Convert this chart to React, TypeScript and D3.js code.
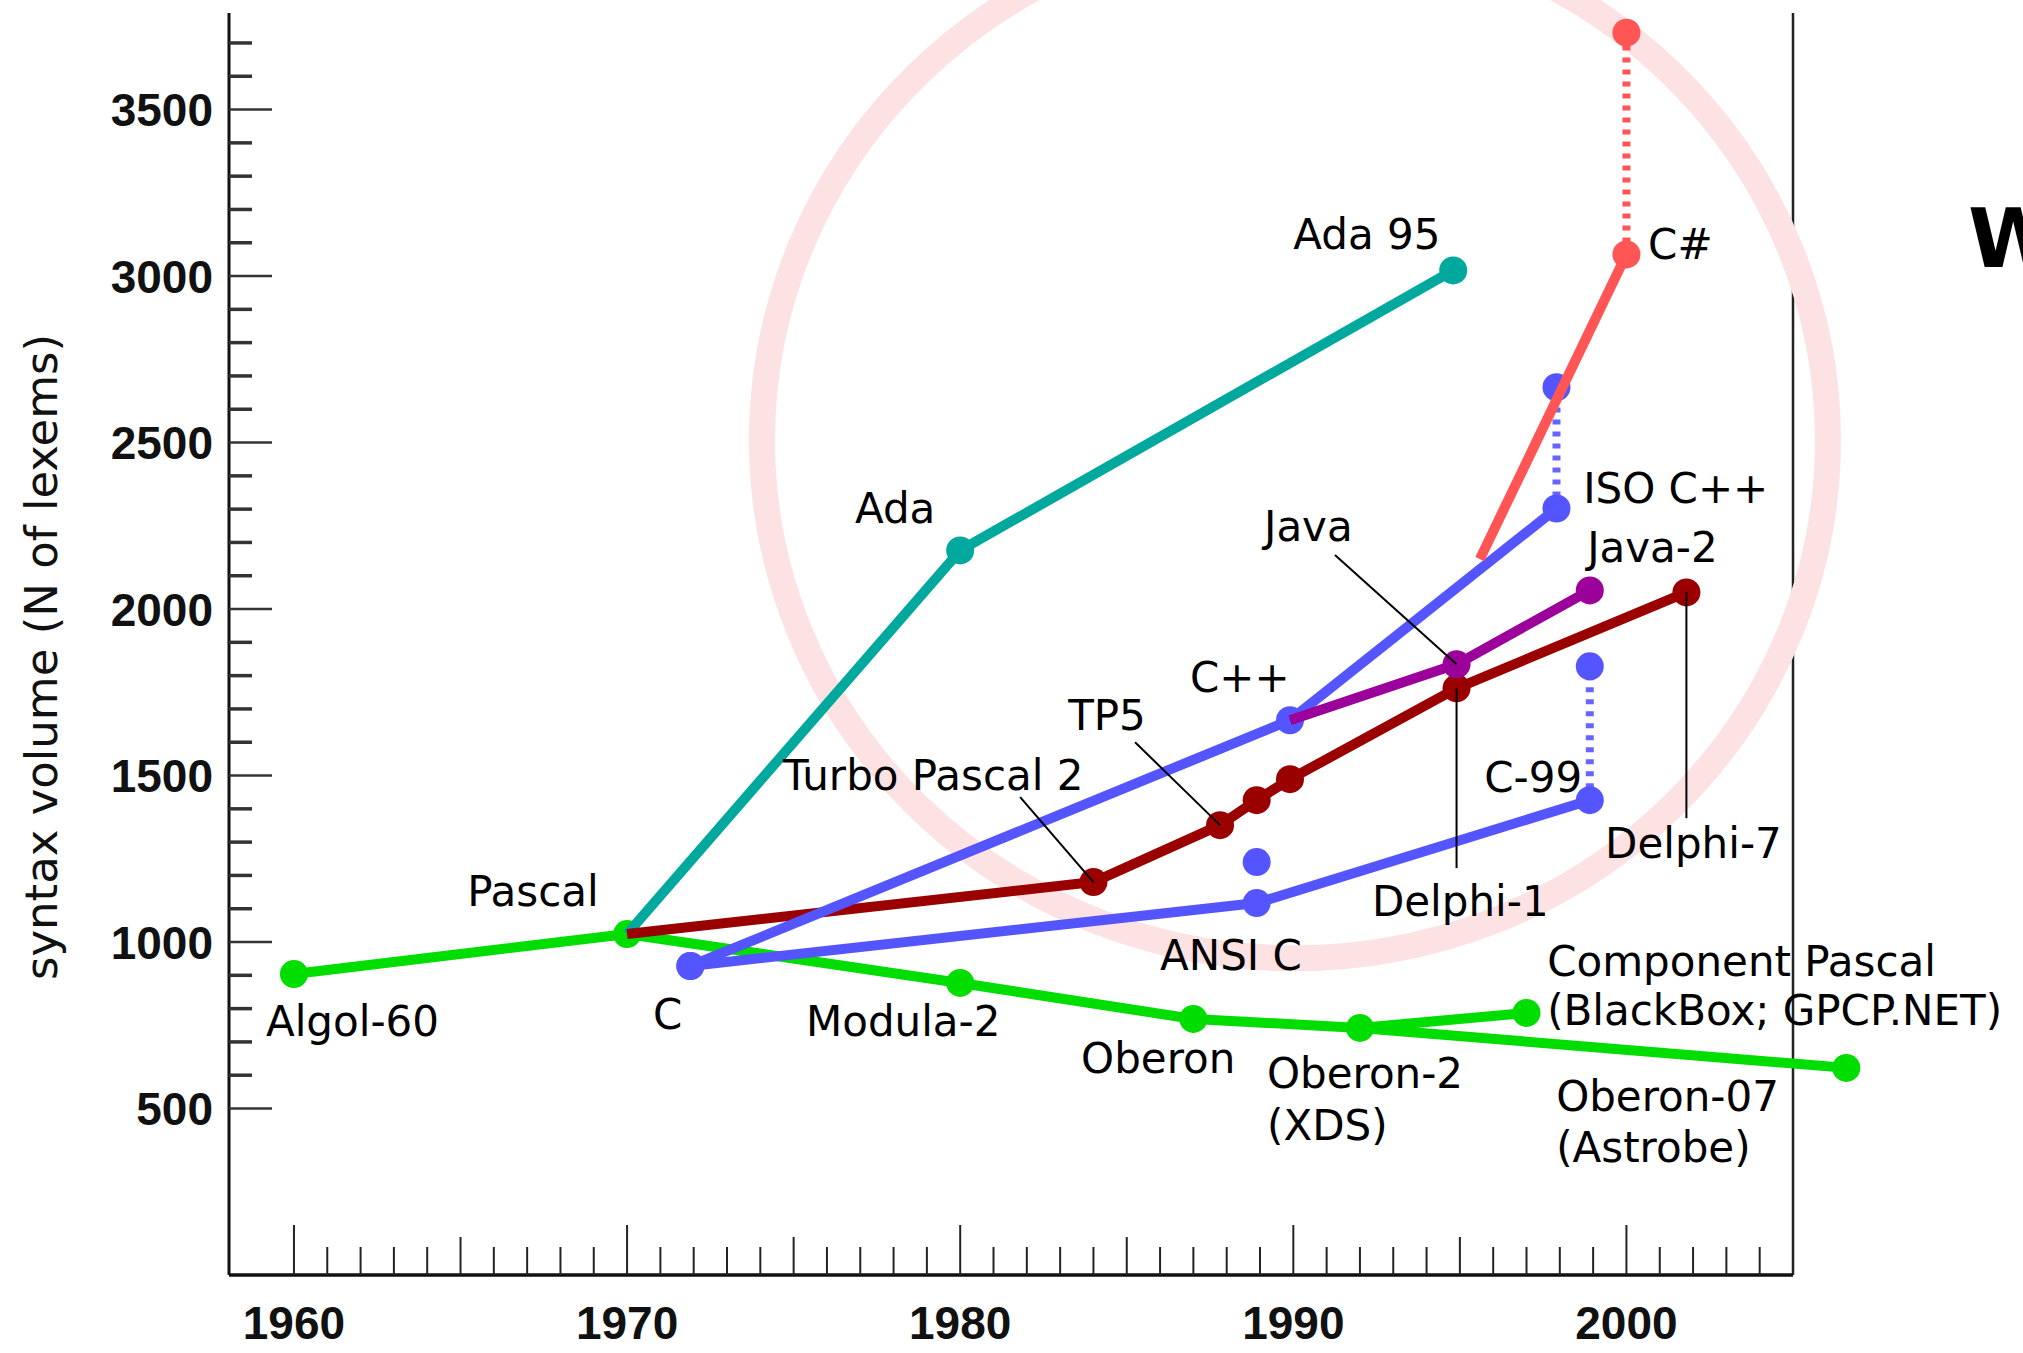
import React from "react";
import * as d3 from "d3";

// ---------- data (year, syntax volume in lexems) ----------
const wirthLine: [number, number][] = [
  [1960, 904], [1970, 1024], [1980, 877], [1987, 769], [1992, 742], [1997, 787],
];
const oberon07Line: [number, number][] = [[1992, 742], [2006.6, 622]];
const adaLine: [number, number][] = [[1970, 1024], [1980, 2176], [1994.8, 3017]];
const borlandLine: [number, number][] = [
  [1970, 1024], [1984, 1180], [1987.8, 1351], [1988.9, 1426], [1989.9, 1489], [1994.9, 1762], [2001.8, 2050],
];
const cppLine: [number, number][] = [[1971.9, 928], [1989.9, 1666], [1997.9, 2302]];
const cLine: [number, number][] = [[1971.9, 928], [1988.9, 1117], [1998.9, 1426]];
const javaLine: [number, number][] = [[1989.9, 1666], [1994.9, 1834], [1998.9, 2056]];
const csharpLine: [number, number][] = [[1995.6, 2150], [2000, 3065]];
const isoCppRange: [number, number][] = [[1997.9, 2302], [1997.9, 2666]];
const c99Range: [number, number][] = [[1998.9, 1426], [1998.9, 1828]];
const csharpRange: [number, number][] = [[2000, 3065], [2000, 3731]];
const ansiCAlt: [number, number][] = [[1988.9, 1240]];

const yTickValues = d3.range(500, 3701, 100);
const yTickLabels = [500, 1000, 1500, 2000, 2500, 3000, 3500];
const xTickValues = d3.range(1960, 2005, 1);
const xTickLabels = [1960, 1970, 1980, 1990, 2000];

// leader lines [from, to] in data units
const leaders: [number, number][][] = [
  [[1991.25, 2162], [1994.9, 1834]],
  [[1985.25, 1600], [1987.8, 1351]],
  [[1981.8, 1435], [1984, 1180]],
  [[1994.9, 1762], [1994.9, 1222]],
  [[2001.8, 2050], [2001.8, 1372]],
];

// label text and anchor (year, value) of the text start/baseline
const labelTexts = [
  "Ada 95", "C#", "ISO C++", "Java-2", "Java", "Ada", "C++", "TP5", "Turbo Pascal 2",
  "C-99", "Delphi-7", "Delphi-1", "ANSI C", "Pascal", "Algol-60", "C", "Modula-2", "Oberon",
  "Oberon-2", "(XDS)", "Component Pascal", "(BlackBox; GPCP.NET)", "Oberon-07", "(Astrobe)",
];
const labelAnchors: [number, number][] = [
  [1990.0, 3081], [2000.65, 3051], [1998.7, 2318], [1998.82, 2141], [1989.12, 2204], [1976.84, 2258],
  [1986.9, 1752], [1983.24, 1637], [1974.68, 1457], [1995.73, 1451], [1999.36, 1252], [1992.36, 1078],
  [1986.0, 916], [1965.2, 1108], [1959.16, 718], [1970.78, 739], [1975.37, 718], [1983.63, 607],
  [1989.21, 562], [1989.21, 405], [1997.62, 897], [1997.62, 751], [1997.89, 493], [1997.89, 339],
];

// highlight ellipse: centre (year, value), half-width in years, half-height in lexems
const highlightCentre: [number, number] = [1990.05, 2507];
const highlightHalf: [number, number] = [16.0, 1556];

const GREEN = "#00dd00";
const TEAL = "#00a89e";
const DARKRED = "#9b0000";
const PURPLE = "#9b009b";
const BLUE = "#5555ff";
const RED = "#ff5555";

export default function App() {
  const W = 2023;
  const H = 1353;
  const x = d3.scaleLinear().domain([1958.05, 2005]).range([229, 1793]);
  const y = d3.scaleLinear().domain([0, 3790]).range([1275, 13]);
  const line = d3
    .line<[number, number]>()
    .x((d) => x(d[0]))
    .y((d) => y(d[1]));

  const R = 14;
  const LW = 10;
  const labelFont = "'DejaVu Sans', Verdana, sans-serif";
  const tickFont = "'Liberation Sans', Arial, sans-serif";

  const series = (
    pts: [number, number][],
    color: string,
    dotsFrom: number,
    key: string
  ) => (
    <g key={key}>
      <path d={line(pts) || ""} fill="none" stroke={color} strokeWidth={LW} strokeLinejoin="round" />
      {pts.slice(dotsFrom).map((p, i) => (
        <circle key={i} cx={x(p[0])} cy={y(p[1])} r={R} fill={color} />
      ))}
    </g>
  );

  const dotted = (pts: [number, number][], color: string, key: string, opacity = 1) => (
    <g key={key}>
      <path
        d={line(pts) || ""}
        fill="none"
        stroke={color}
        strokeOpacity={opacity}
        strokeWidth={8}
        strokeDasharray="5 7"
      />
      <circle cx={x(pts[1][0])} cy={y(pts[1][1])} r={R} fill={color} />
    </g>
  );

  const yTop = y.range()[1];
  const yBottom = y.range()[0];
  const xLeft = x.range()[0];
  const xRight = x.range()[1];

  return (
    <svg
      width={W}
      height={H}
      viewBox={`0 0 ${W} ${H}`}
      style={{ position: "absolute", left: 0, top: 0, background: "#fff", display: "block" }}
    >
      <rect x={0} y={0} width={W} height={H} fill="#fff" />

      {/* axes frame */}
      <line x1={xLeft} y1={yTop} x2={xLeft} y2={yBottom} stroke="#111" strokeWidth={3} />
      <line x1={xRight} y1={yTop} x2={xRight} y2={yBottom} stroke="#222" strokeWidth={2.5} />
      <line x1={xLeft} y1={yBottom} x2={xRight} y2={yBottom} stroke="#111" strokeWidth={3.5} />

      {/* y ticks */}
      {yTickValues.map((v) => {
        const major = v % 500 === 0;
        return (
          <line
            key={v}
            x1={xLeft}
            x2={xLeft + (major ? 43 : 23)}
            y1={y(v)}
            y2={y(v)}
            stroke="#333"
            strokeWidth={major ? 2.5 : 3.5}
          />
        );
      })}
      {yTickLabels.map((v) => (
        <text
          key={v}
          x={213}
          y={y(v)}
          dy="0.36em"
          textAnchor="end"
          fontFamily={tickFont}
          fontWeight="bold"
          fontSize={46}
          fill="#111"
        >
          {v}
        </text>
      ))}

      {/* x ticks */}
      {xTickValues.map((t) => {
        const len = t % 10 === 0 ? 50 : t % 5 === 0 ? 38 : 28;
        return (
          <line key={t} x1={x(t)} x2={x(t)} y1={yBottom} y2={yBottom - len} stroke="#222" strokeWidth={2} />
        );
      })}
      {xTickLabels.map((t) => (
        <text
          key={t}
          x={x(t)}
          y={1339}
          textAnchor="middle"
          fontFamily={tickFont}
          fontWeight="bold"
          fontSize={46}
          fill="#111"
        >
          {t}
        </text>
      ))}

      {/* y axis title */}
      <text
        transform={`translate(57, 657) rotate(-90)`}
        textAnchor="middle"
        fontFamily={labelFont}
        fontSize={45}
        fill="#111"
      >
        syntax volume (N of lexems)
      </text>

      {/* highlight ellipse */}
      <ellipse
        cx={x(highlightCentre[0])}
        cy={y(highlightCentre[1])}
        rx={x(highlightCentre[0] + highlightHalf[0]) - x(highlightCentre[0])}
        ry={y(highlightCentre[1] - highlightHalf[1]) - y(highlightCentre[1])}
        fill="none"
        stroke="#fde2e3"
        strokeWidth={26}
      />

      {/* series */}
      {series(wirthLine, GREEN, 0, "wirth")}
      {series(oberon07Line, GREEN, 1, "ob07")}
      {series(adaLine, TEAL, 1, "ada")}
      {series(borlandLine, DARKRED, 1, "borland")}
      {series(cLine, BLUE, 0, "c")}
      {series(cppLine, BLUE, 0, "cpp")}
      {dotted(isoCppRange, BLUE, "isocpp", 0.9)}
      {dotted(c99Range, BLUE, "c99", 0.9)}
      {ansiCAlt.map((p, i) => (
        <circle key={"ansi" + i} cx={x(p[0])} cy={y(p[1])} r={R} fill={BLUE} />
      ))}
      {series(javaLine, PURPLE, 1, "java")}
      {series(csharpLine, RED, 1, "csharp")}
      {dotted(csharpRange, RED, "csrange")}

      {/* leader lines */}
      {leaders.map((l, i) => (
        <line
          key={"ld" + i}
          x1={x(l[0][0])}
          y1={y(l[0][1])}
          x2={x(l[1][0])}
          y2={y(l[1][1])}
          stroke="#000"
          strokeWidth={2}
        />
      ))}

      {/* labels */}
      {labelTexts.map((t, i) => (
        <text
          key={"lb" + i}
          x={x(labelAnchors[i][0])}
          y={y(labelAnchors[i][1])}
          fontFamily={labelFont}
          fontSize={42}
          fill="#000"
        >
          {t}
        </text>
      ))}

      {/* cut-off title letter at right edge (as in the reference) */}
      <text x={1968} y={267} fontFamily={labelFont} fontWeight="bold" fontSize={82} fill="#000">
        W
      </text>
    </svg>
  );
}
